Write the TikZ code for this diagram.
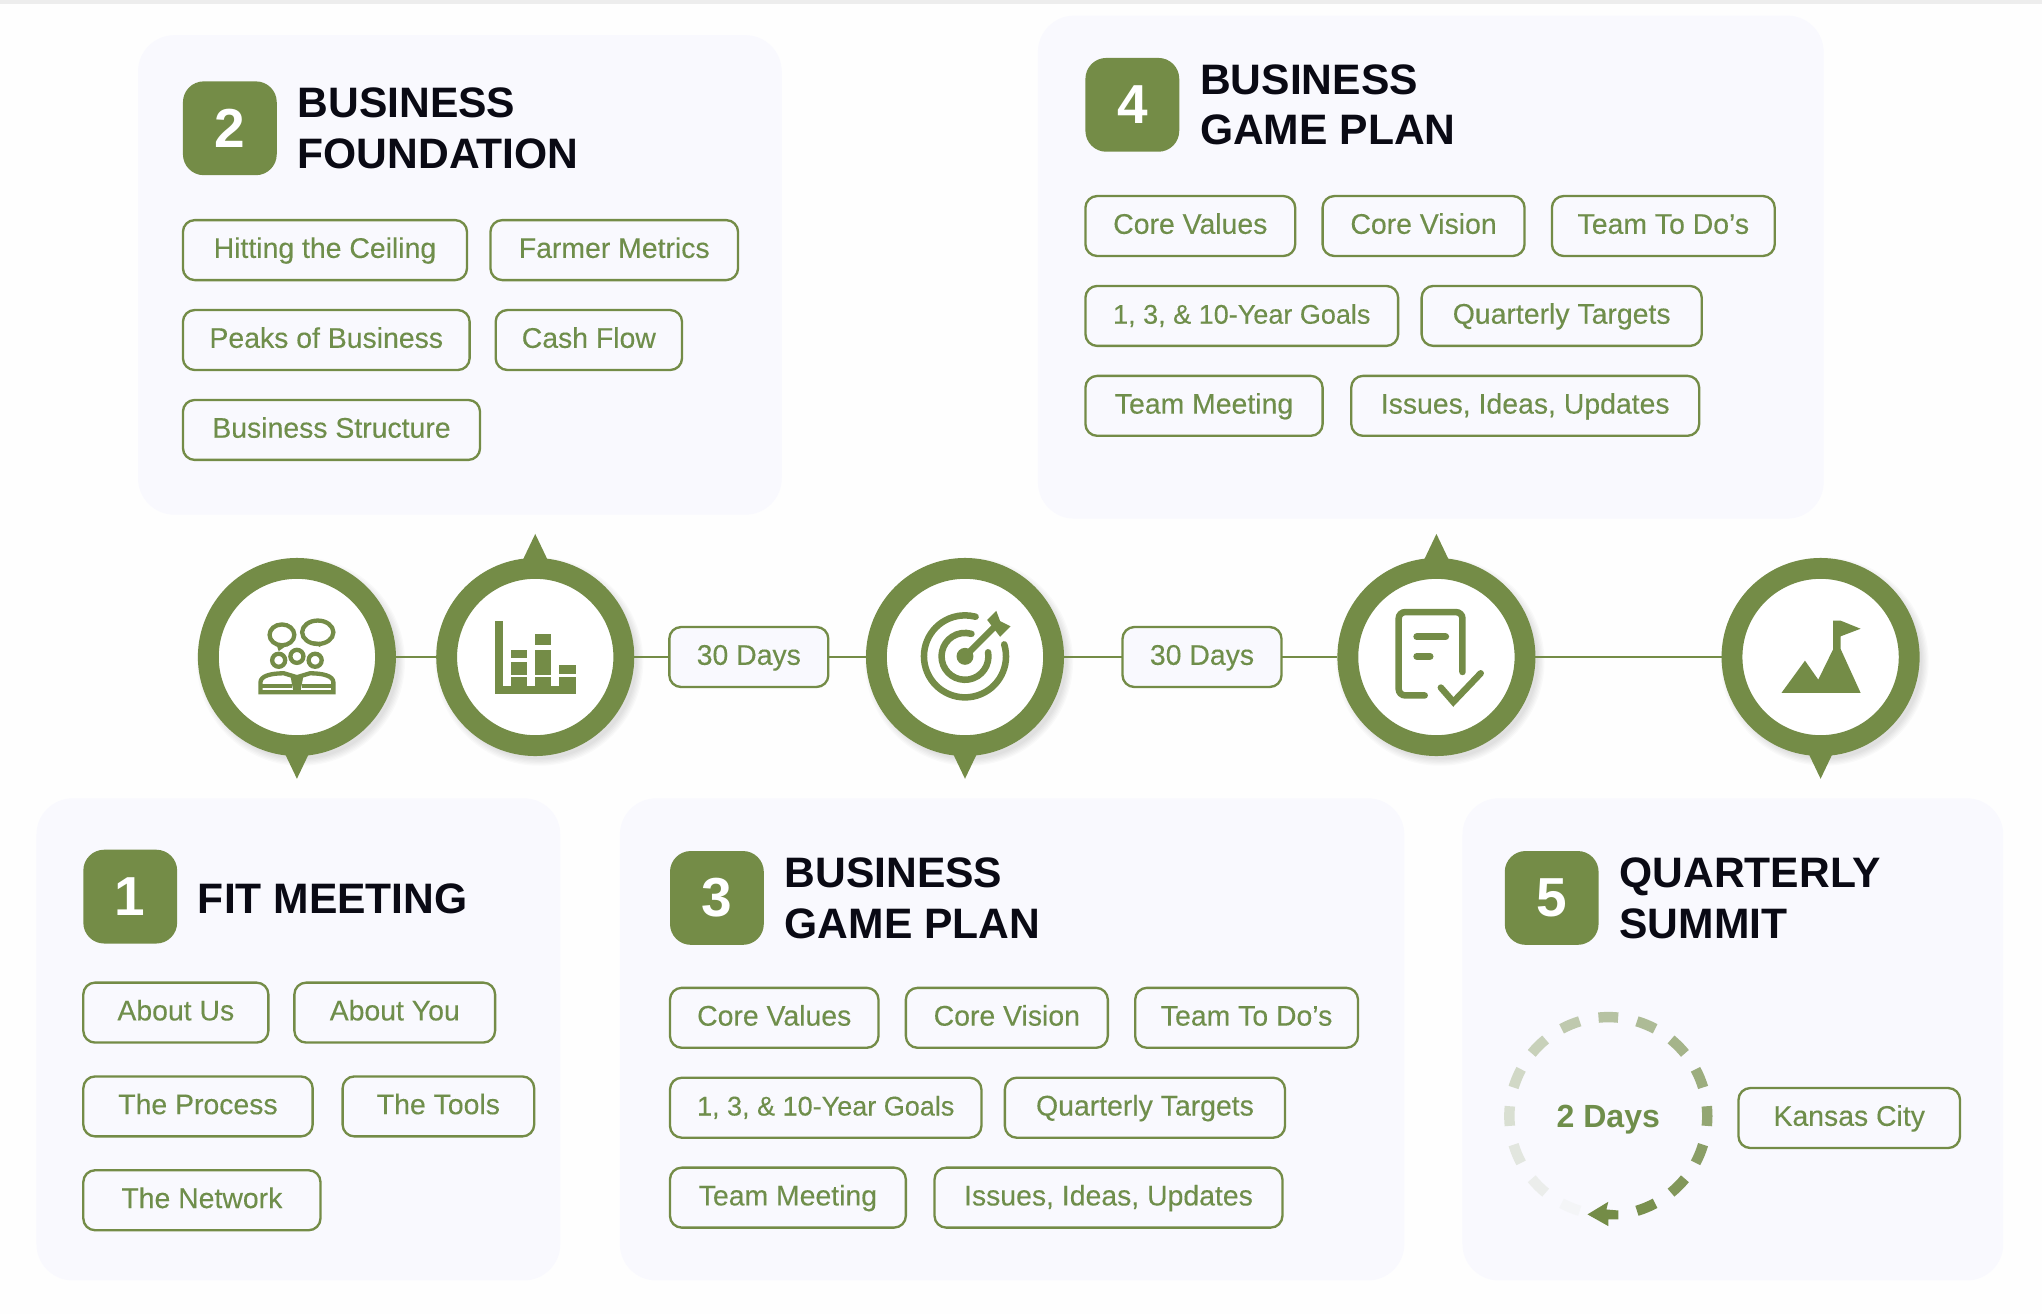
\documentclass[tikz,border=0pt]{standalone}
\usepackage{fontspec}
\setmainfont{Liberation Sans}
\newfontfamily\pillfont[FakeBold=0.25]{Liberation Sans}
\usetikzlibrary{positioning, calc}
\definecolor{fitgreen}{HTML}{748C47}
\definecolor{fittext}{HTML}{6F8E4B}
\definecolor{fitpanel}{HTML}{F9F9FE}
\definecolor{fitpage}{HTML}{FEFEFE}
\definecolor{fitink}{HTML}{0A0A14}
\tikzset{
  panel/.style={fill=fitpanel, rounded corners=0.28cm, anchor=north west, inner sep=0, outer sep=0},
  badge/.style={fill=fitgreen, rounded corners=0.16cm, minimum size=0.72cm, inner sep=0, outer sep=0, text=white, font=\fontsize{12}{14}\selectfont\bfseries},
  heading/.style={text=fitink, align=left, inner sep=0, outer sep=0, font=\fontsize{9.3}{11.1}\selectfont\bfseries},
  pill/.style={draw=fitgreen, fill=fitpanel, line width=0.018cm, rounded corners=0.09cm, minimum height=0.46cm, inner sep=0, outer sep=0, text=fittext, text height=4.4pt, text depth=1pt, font=\fontsize{6.2}{7.5}\pillfont},
  ring/.style={circle, draw=fitgreen, fill=white, line width=0.16cm, minimum size=1.36cm, inner sep=0},
  link/.style={draw=fitgreen, line width=0.016cm},
  icon/.style={draw=fitgreen, line width=0.033cm},
}
\begin{document}
\begin{tikzpicture}[x=0.01cm, y=-0.01cm]
\useasboundingbox (0,0) rectangle (1568,1009);
\fill[fitpage] (0,0) rectangle (1568,1009);
\fill[black!7] (0,0) rectangle (1568,3);

% panels
\node[panel, minimum width=4.94cm, minimum height=3.68cm] (p2) at (106,27) {};
\node[panel, minimum width=6.03cm, minimum height=3.86cm] (p4) at (797,12) {};
\node[panel, minimum width=4.02cm, minimum height=3.70cm] (p1) at (28,613) {};
\node[panel, minimum width=6.02cm, minimum height=3.70cm] (p3) at (476,613) {};
\node[panel, minimum width=4.15cm, minimum height=3.70cm] (p5) at (1123,613) {};

% panel 2
\node[badge] (b2) at (176.5,98.5) {2};
\node[heading, right=0.16cm of b2] (t2) {BUSINESS\\FOUNDATION};
\node[pill, minimum width=2.18cm, below right=0.345cm and 0cm of b2.south west] (ceiling) {Hitting the Ceiling};
\node[pill, minimum width=1.90cm, right=0.18cm of ceiling] (farmer) {Farmer Metrics};
\node[pill, minimum width=2.20cm, below right=0.23cm and 0cm of ceiling.south west] (peaks) {Peaks of Business};
\node[pill, minimum width=1.43cm, right=0.20cm of peaks] (cash) {Cash Flow};
\node[pill, minimum width=2.28cm, below right=0.23cm and 0cm of peaks.south west] (structure) {Business Structure};

% panel 4
\node[badge] (b4) at (869.5,80.5) {4};
\node[heading, right=0.16cm of b4] (t4) {BUSINESS\\GAME PLAN};
\node[pill, minimum width=1.61cm, below right=0.34cm and 0cm of b4.south west] (values4) {Core Values};
\node[pill, minimum width=1.55cm, right=0.21cm of values4] (vision4) {Core Vision};
\node[pill, minimum width=1.71cm, right=0.21cm of vision4] (todo4) {Team To Do’s};
\node[pill, minimum width=2.40cm, below right=0.23cm and 0cm of values4.south west, font=\fontsize{5.9}{7.5}\pillfont] (goals4) {1, 3, \& 10-Year Goals};
\node[pill, minimum width=2.15cm, right=0.18cm of goals4] (targets4) {Quarterly Targets};
\node[pill, minimum width=1.82cm, below right=0.23cm and 0cm of goals4.south west] (team4) {Team Meeting};
\node[pill, minimum width=2.67cm, right=0.22cm of team4] (issues4) {Issues, Ideas, Updates};

% panel 1
\node[badge] (b1) at (100,688.5) {1};
\node[heading, right=0.16cm of b1, yshift=-0.015cm] (t1) {FIT MEETING};
\node[pill, minimum width=1.42cm, below right=0.30cm and 0cm of b1.south west] (us) {About Us};
\node[pill, minimum width=1.54cm, right=0.20cm of us] (you) {About You};
\node[pill, minimum width=1.76cm, below right=0.26cm and 0cm of us.south west] (process) {The Process};
\node[pill, minimum width=1.47cm, right=0.23cm of process] (tools) {The Tools};
\node[pill, minimum width=1.82cm, below right=0.26cm and 0cm of process.south west] (network) {The Network};

% panel 3
\node[badge] (b3) at (550.5,689.5) {3};
\node[heading, right=0.16cm of b3] (t3) {BUSINESS\\GAME PLAN};
\node[pill, minimum width=1.60cm, below right=0.33cm and 0cm of b3.south west] (values3) {Core Values};
\node[pill, minimum width=1.55cm, right=0.21cm of values3] (vision3) {Core Vision};
\node[pill, minimum width=1.71cm, right=0.21cm of vision3] (todo3) {Team To Do’s};
\node[pill, minimum width=2.39cm, below right=0.23cm and 0cm of values3.south west, font=\fontsize{5.9}{7.5}\pillfont] (goals3) {1, 3, \& 10-Year Goals};
\node[pill, minimum width=2.15cm, right=0.18cm of goals3] (targets3) {Quarterly Targets};
\node[pill, minimum width=1.81cm, below right=0.23cm and 0cm of goals3.south west] (team3) {Team Meeting};
\node[pill, minimum width=2.67cm, right=0.22cm of team3] (issues3) {Issues, Ideas, Updates};

% panel 5
\node[badge] (b5) at (1191.5,689.5) {5};
\node[heading, right=0.16cm of b5] (t5) {QUARTERLY\\SUMMIT};
\node[text=fittext, inner sep=0, font=\fontsize{7}{9}\selectfont\bfseries] (days) at (1235,860) {2 Days};
\node[pill, minimum width=1.70cm, anchor=center] (kansas) at (1420,858.5) {Kansas City};
\begin{scope}[shift={(1235,857)}, y=0.01cm]
  \foreach \i in {0,...,14} {
    \pgfmathsetmacro{\a}{247.5-22.5*\i}
    \pgfmathsetmacro{\p}{4+6.6*\i}
    \draw[line width=0.08cm, color=fitgreen!\p!fitpanel] ({\a+5.7}:76) arc[start angle=\a+5.7, end angle=\a-5.7, radius=76];
  }
\end{scope}
\begin{scope}[shift={(1235,857)}]
  \fill[fitgreen] (-16,75.5) -- (0,65.8) -- (-1.5,71.7) -- (7.7,72.5) -- (7.7,79.4) -- (0,79.4) -- (0,84.5) -- cycle;
\end{scope}

% timeline shadows and pointers
\foreach \cx in {228,411,741,1103,1398}
  \foreach \k in {0,...,5}
    \fill[black, opacity=0.02] (\cx+3,508) circle[radius=80-\k];
\foreach \cx in {228,741,1398}
  \fill[fitgreen] (\cx-10.5,576) -- (\cx+10.5,576) -- (\cx,598) -- cycle;
\foreach \cx in {411,1103}
  \fill[fitgreen] (\cx-10.5,432) -- (\cx+10.5,432) -- (\cx,410) -- cycle;

% timeline
\node[ring] (n1) at (228,504.5) {};
\node[ring] (n2) at (411,504.5) {};
\node[ring] (n3) at (741,504.5) {};
\node[ring] (n4) at (1103,504.5) {};
\node[ring] (n5) at (1398,504.5) {};
\node[pill, minimum width=1.22cm, anchor=center] (d1) at (575,504.5) {30 Days};
\node[pill, minimum width=1.22cm, anchor=center] (d2) at (923,504.5) {30 Days};
\draw[link] (n1) -- (n2);
\draw[link] (n2) -- (d1);
\draw[link] (d1) -- (n3);
\draw[link] (n3) -- (d2);
\draw[link] (d2) -- (n4);
\draw[link] (n4) -- (n5);

% icon meeting
\begin{scope}[shift={(228,504)}]
  \draw[icon] (-11.5,-16.5) ellipse[x radius=9.5, y radius=8];
  \fill[fitgreen] (-16,-10) -- (-14,-4) -- (-7,-9) -- cycle;
  \draw[icon] (16,-18.5) ellipse[x radius=12, y radius=9];
  \fill[fitgreen] (9,-12) -- (18,-7) -- (18,-11) -- cycle;
  \draw[icon] (-14,3) circle[radius=5];
  \draw[icon] (0,0) circle[radius=5];
  \draw[icon] (14,3) circle[radius=5];
  \draw[icon] (-28,27.5) -- (-28,20) .. controls (-28,15) and (-20,13) .. (-10,13) -- (0,16) -- (10,13) .. controls (20,13) and (28,15) .. (28,20) -- (28,27.5) -- cycle;
  \draw[icon] (-28,23) -- (-4,23);
  \draw[icon] (4,23) -- (28,23);
  \fill[fitgreen] (-5,15) -- (5,15) -- (2.5,28) -- (-2.5,28) -- cycle;
\end{scope}

% icon bars
\begin{scope}[shift={(411,504)}]
  \fill[fitgreen] (-31.2,-27) rectangle (-24.9,29);
  \fill[fitgreen] (-24.9,23) rectangle (31,29);
  \fill[fitgreen] (-18.6,-5) rectangle (-6.4,1);
  \fill[fitgreen] (-18.6,4) rectangle (-6.4,14);
  \fill[fitgreen] (-18.6,16) rectangle (-6.4,23);
  \fill[fitgreen] (0,-17) rectangle (12.3,-8.5);
  \fill[fitgreen] (0,-5) rectangle (12.3,14);
  \fill[fitgreen] (0,16) rectangle (12.3,23);
  \fill[fitgreen] (18.6,7) rectangle (31,13.5);
  \fill[fitgreen] (18.6,16) rectangle (31,23);
\end{scope}

% icon target
\begin{scope}[shift={(741,504)}, y=0.01cm]
  \draw[fitgreen, line width=0.05cm, line cap=round] (17:31.5) arc[start angle=17, end angle=-285, radius=31.5];
  \draw[fitgreen, line width=0.05cm, line cap=round] (10:18) arc[start angle=10, end angle=-286, radius=18];
  \fill[fitgreen] (0,0) circle[radius=6.5];
  \draw[fitgreen, line width=0.05cm] (0,0) -- (24,24);
  \fill[fitgreen] (17,28) -- (24,35) -- (27,27) -- (35,23) -- (27,15) -- cycle;
\end{scope}

% icon checklist
\begin{scope}[shift={(1103,504)}]
  \draw[fitgreen, line width=0.05cm, line cap=round, rounded corners=0.05cm] (-9,30) -- (-29,30) -- (-29,-34) -- (20,-34) -- (20,12);
  \draw[fitgreen, line width=0.055cm, line cap=round] (-15,-15) -- (7,-15);
  \draw[fitgreen, line width=0.055cm, line cap=round] (-15,0) -- (-5,0);
  \draw[fitgreen, line width=0.05cm, line cap=round] (3.4,24) -- (13,35) -- (34,13);
\end{scope}

% icon summit
\begin{scope}[shift={(1398,504)}]
  \fill[fitgreen] (-30,28) -- (-12,3.3) -- (-1.8,17.9) -- (9.7,-5.6) -- (9.7,-27.4) -- (15.4,-27.4) -- (30.7,-21.2) -- (15.4,-15.4) -- (15.4,-5.6) -- (30.7,28) -- cycle;
\end{scope}
\end{tikzpicture}
\end{document}
